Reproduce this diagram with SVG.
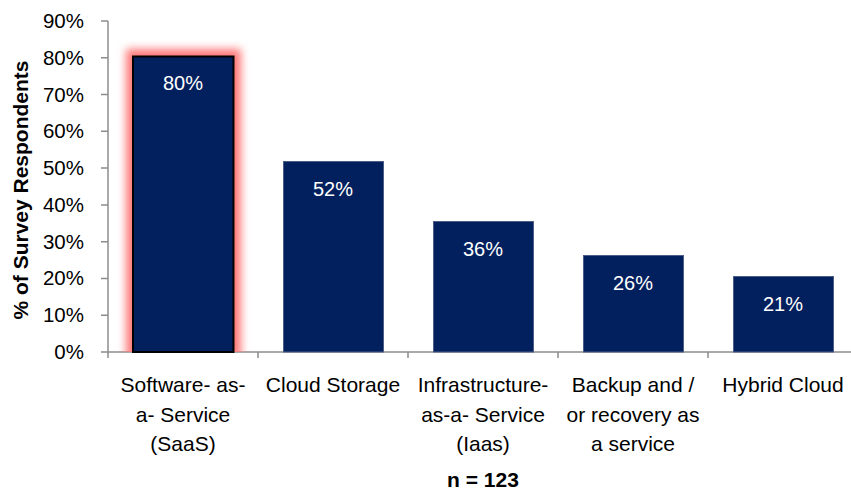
<svg xmlns="http://www.w3.org/2000/svg" width="851" height="494" viewBox="0 0 851 494">
<style>
.tick{font-family:"Liberation Sans",Arial,sans-serif;font-size:20.5px;fill:#000;text-anchor:end}
.cat{font-family:"Liberation Sans",Arial,sans-serif;font-size:21px;fill:#000;text-anchor:middle}
.val{font-family:"Liberation Sans",Arial,sans-serif;font-size:20px;fill:#fff;text-anchor:middle}
.bold{font-family:"Liberation Sans",Arial,sans-serif;font-size:21px;font-weight:bold;fill:#000;text-anchor:middle}
.bar{fill:#03205e;stroke:#4c5e85;stroke-width:1}
.ax{stroke:#8c8c8c;stroke-width:1.5;fill:none}
</style>
<defs>
<filter id="glow" x="-30%" y="-30%" width="160%" height="160%">
<feGaussianBlur stdDeviation="4"/>
</filter>
<clipPath id="abv"><rect x="0" y="0" width="851" height="352"/></clipPath>
</defs>
<rect width="851" height="494" fill="#fff"/>
<g id="axes" class="ax">
<line x1="108" y1="21" x2="108" y2="352"/>
<line x1="108" y1="352" x2="851" y2="352"/>
<path d="M101 21H108M101 57.8H108M101 94.6H108M101 131.3H108M101 168.1H108M101 204.9H108M101 241.7H108M101 278.4H108M101 315.2H108M101 352H108"/>
<path d="M108 352V358M258 352V358M408 352V358M558 352V358M708 352V358"/>
</g>
<g id="ticklabels">
<text class="tick" x="84" y="28">90%</text>
<text class="tick" x="84" y="64.8">80%</text>
<text class="tick" x="84" y="101.6">70%</text>
<text class="tick" x="84" y="138.3">60%</text>
<text class="tick" x="84" y="175.1">50%</text>
<text class="tick" x="84" y="211.9">40%</text>
<text class="tick" x="84" y="248.7">30%</text>
<text class="tick" x="84" y="285.4">20%</text>
<text class="tick" x="84" y="322.2">10%</text>
<text class="tick" x="84" y="359">0%</text>
</g>
<text id="ytitle" class="bold" transform="translate(28,190) rotate(-90)">% of Survey Respondents</text>
<g id="bar-saas">
<g clip-path="url(#abv)"><rect x="126" y="49" width="115" height="310" fill="#ff7878" filter="url(#glow)"/></g>
<rect x="133" y="56.5" width="100.5" height="295.5" fill="#03205e" stroke="#000" stroke-width="2"/>
<text class="val" x="183" y="90">80%</text>
</g>
<g id="bar-storage">
<rect class="bar" x="283.5" y="161.5" width="100" height="190.5"/>
<text class="val" x="333" y="196">52%</text>
</g>
<g id="bar-iaas">
<rect class="bar" x="433.5" y="221.5" width="100" height="130.5"/>
<text class="val" x="483" y="256">36%</text>
</g>
<g id="bar-backup">
<rect class="bar" x="583.5" y="255.5" width="100" height="96.5"/>
<text class="val" x="633" y="290">26%</text>
</g>
<g id="bar-hybrid">
<rect class="bar" x="733.5" y="276.5" width="100" height="75.5"/>
<text class="val" x="783" y="311">21%</text>
</g>
<g id="categories">
<text class="cat" x="183" y="392">Software- as-</text>
<text class="cat" x="183" y="422">a- Service</text>
<text class="cat" x="183" y="451">(SaaS)</text>
<text class="cat" x="333" y="392">Cloud Storage</text>
<text class="cat" x="483" y="392">Infrastructure-</text>
<text class="cat" x="483" y="422">as-a- Service</text>
<text class="cat" x="483" y="451">(Iaas)</text>
<text class="cat" x="633" y="392">Backup and /</text>
<text class="cat" x="633" y="422">or recovery as</text>
<text class="cat" x="633" y="451">a service</text>
<text class="cat" x="783" y="392">Hybrid Cloud</text>
</g>
<text id="n" class="bold" x="483" y="487">n = 123</text>
</svg>
